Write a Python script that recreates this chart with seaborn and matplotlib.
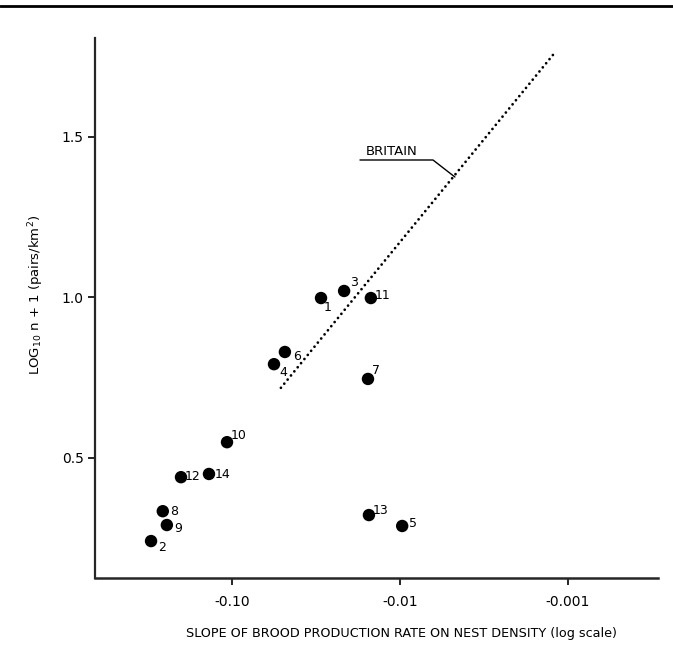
import matplotlib
matplotlib.use("Agg")
import matplotlib.pyplot as plt
from matplotlib.lines import Line2D
import seaborn as sns
import pandas as pd

# study areas: slope of brood production rate on nest density, log10(n+1) density
areas = ["1", "2", "3", "4", "5", "6", "7", "8", "9", "10", "11", "12", "13", "14"]
slopes = [-0.0295, -0.303, -0.0215, -0.0562, -0.0097, -0.0484, -0.0155,
          -0.258, -0.244, -0.107, -0.0149, -0.201, -0.0153, -0.137]
density = [0.997, 0.240, 1.019, 0.791, 0.287, 0.829, 0.745,
           0.333, 0.290, 0.548, 0.997, 0.439, 0.321, 0.449]
# label offsets in points
label_dx = [5, 8, 7, 6.5, 8, 8.5, 6, 8.5, 8.5, 8.5, 8.5, 8.5, 8.5, 9.5]
label_dy = [-6.5, -4.5, 6, -6, 2, -3, 6, 0, -2.5, 4.5, 2, 0.5, 3.5, -0.5]

# Britain regression line end points
britain_slope = [-0.0525, -0.00123]
britain_density = [0.710, 1.754]

x_ticks = [0.1, 0.01, 0.001]
x_tick_labels = ["-0.10", "-0.01", "-0.001"]
y_ticks = [0.5, 1.0, 1.5]

df = pd.DataFrame({"area": areas, "mag": [-s for s in slopes], "density": density})
line_df = pd.DataFrame({"mag": [-s for s in britain_slope], "density": britain_density})

sns.set_style("ticks")
plt.rcParams["font.family"] = ["DejaVu Sans"]
plt.rcParams["text.color"] = "black"
plt.rcParams["axes.labelcolor"] = "black"
plt.rcParams["xtick.color"] = "black"
plt.rcParams["ytick.color"] = "black"

fig = plt.figure(figsize=(6.73, 6.62), dpi=100)
ax = fig.add_axes([0.1412, 0.1269, 0.8366, 0.8157])

sns.lineplot(data=line_df, x="mag", y="density", ax=ax, color="black",
             linewidth=2.0, linestyle=(0, (0.01, 1.9)), dash_capstyle="round")
sns.scatterplot(data=df, x="mag", y="density", ax=ax, color="black",
                s=80, edgecolor="none", zorder=3)

for a, m, d, dx, dy in zip(areas, df["mag"], density, label_dx, label_dy):
    ax.annotate(a, (m, d), xytext=(dx, dy), textcoords="offset points",
                ha="center", va="center", fontsize=9)

ax.set_xscale("log")
ax.set_xlim(0.653, 0.000291)
ax.set_ylim(0.125, 1.807)
ax.set_xticks(x_ticks)
ax.set_xticklabels(x_tick_labels)
ax.minorticks_off()
ax.set_yticks(y_ticks)
ax.set_yticklabels(["0.5", "1.0", "1.5"])
ax.tick_params(axis="both", labelsize=10, width=1.2, length=5)
ax.tick_params(axis="x", pad=7)
ax.tick_params(axis="y", pad=3)

ax.set_xlabel("SLOPE OF BROOD PRODUCTION RATE ON NEST DENSITY (log scale)",
              fontsize=9.2)
ax.xaxis.set_label_coords(0.545, -0.090)
ax.set_ylabel("LOG$_{10}$ n + 1 (pairs/km$^2$)", fontsize=9.5)
ax.yaxis.set_label_coords(-0.087, 0.524)

sns.despine(ax=ax)
ax.spines["left"].set_linewidth(1.6)
ax.spines["bottom"].set_linewidth(1.8)

# BRITAIN label with leader line
ax.text(0.0112, 1.455, "BRITAIN", fontsize=9.5, ha="center", va="center")
ax.plot([0.0173, 0.00636, 0.00471], [1.427, 1.427, 1.374],
        color="black", linewidth=1.0)

fig.add_artist(Line2D([0.0, 1.0], [0.991, 0.991], color="black", linewidth=2.0))

fig.savefig("out.png", dpi=100)
